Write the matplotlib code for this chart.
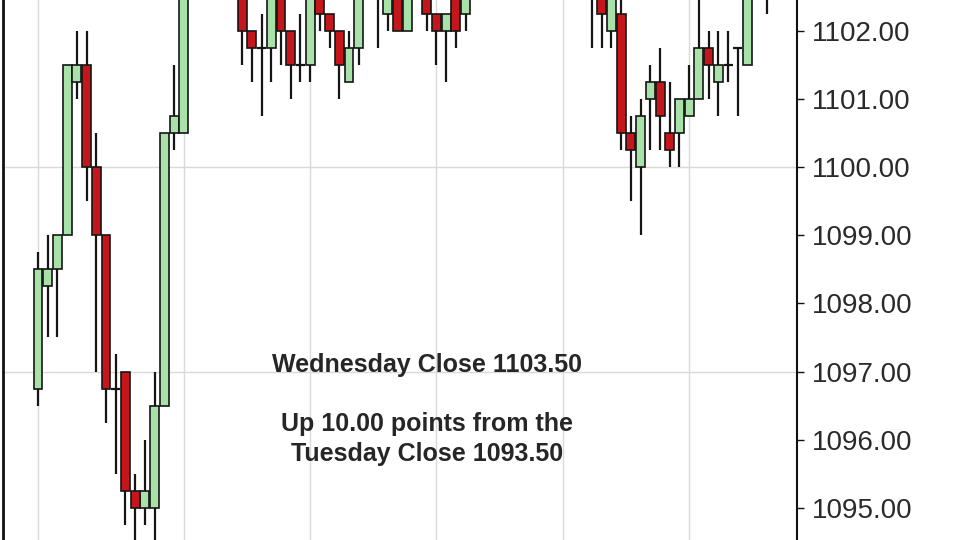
import matplotlib
matplotlib.use("Agg")
import matplotlib.pyplot as plt
import numpy as np

plt.rcParams['font.family'] = ['Liberation Sans', 'DejaVu Sans']

# OHLC per bar (bar index = position in list)
opens = [1096.75, 1098.25, 1098.5, 1099.0, 1101.25, 1101.5, 1100.0, 1099.0, 1096.75, 1097.0,
         1095.25, 1095.0, 1095.0, 1096.5, 1100.5, 1100.5, 1102.75, 1103.25, 1103.5, 1103.25,
         1103.0, 1102.75, 1102.0, 1101.75, 1101.75, 1102.75, 1102.0, 1101.5, 1101.5, 1102.5,
         1102.25, 1102.0, 1101.25, 1101.75, 1102.75, 1103.0, 1102.25, 1102.75, 1102.0, 1102.75,
         1102.75, 1102.25, 1102.0, 1102.75, 1102.25, 1102.75, 1103.0, 1103.25, 1103.5, 1103.75,
         1103.5, 1103.25, 1103.0, 1103.25, 1103.0, 1102.75, 1103.0, 1103.0, 1102.75, 1102.0,
         1102.25, 1100.5, 1100.0, 1101.0, 1101.25, 1100.5, 1100.5, 1100.75, 1101.0, 1101.75,
         1101.25, 1101.5, 1101.75, 1101.5, 1102.75, 1103.25]
highs = [1098.75, 1099.0, 1099.0, 1101.5, 1102.0, 1102.0, 1100.5, 1099.0, 1097.25, 1097.0,
         1095.5, 1096.0, 1097.0, 1100.5, 1101.5, 1103.0, 1103.5, 1103.75, 1103.75, 1103.5,
         1103.25, 1103.0, 1102.0, 1102.25, 1103.0, 1102.75, 1102.0, 1102.25, 1103.0, 1102.5,
         1102.25, 1102.0, 1102.0, 1103.0, 1103.25, 1103.25, 1103.0, 1102.75, 1102.75, 1103.25,
         1103.0, 1102.25, 1102.25, 1102.75, 1103.0, 1103.25, 1103.5, 1103.75, 1104.0, 1104.0,
         1103.75, 1103.5, 1103.5, 1103.5, 1103.25, 1103.25, 1103.25, 1103.25, 1102.75, 1102.75,
         1102.5, 1100.75, 1101.0, 1101.5, 1101.75, 1101.25, 1101.0, 1101.5, 1102.75, 1102.0,
         1102.0, 1102.0, 1101.75, 1102.75, 1103.5, 1103.75]
lows = [1096.5, 1097.5, 1097.5, 1099.0, 1101.0, 1099.5, 1097.0, 1096.25, 1095.5, 1094.75,
        1094.25, 1094.75, 1094.25, 1096.5, 1100.25, 1100.5, 1102.5, 1103.0, 1103.0, 1102.75,
        1102.5, 1101.5, 1101.25, 1100.75, 1101.25, 1101.5, 1101.0, 1101.25, 1101.25, 1102.0,
        1101.75, 1101.0, 1101.25, 1101.5, 1102.5, 1101.75, 1102.0, 1102.0, 1102.0, 1102.5,
        1102.0, 1101.5, 1101.25, 1101.75, 1102.0, 1102.5, 1102.75, 1103.0, 1103.25, 1103.25,
        1103.0, 1102.75, 1102.75, 1102.75, 1102.5, 1102.5, 1102.5, 1101.75, 1101.75, 1101.75,
        1100.25, 1099.5, 1099.0, 1100.25, 1100.25, 1100.0, 1100.0, 1100.75, 1101.0, 1101.0,
        1100.75, 1101.25, 1100.75, 1101.5, 1102.5, 1102.25]
closes = [1098.5, 1098.5, 1099.0, 1101.5, 1101.5, 1100.0, 1099.0, 1096.75, 1096.75, 1095.25,
          1095.0, 1095.25, 1096.5, 1100.5, 1100.75, 1102.75, 1103.25, 1103.5, 1103.25, 1103.0,
          1102.75, 1102.0, 1101.75, 1101.75, 1102.75, 1102.0, 1101.5, 1101.5, 1102.75, 1102.25,
          1102.0, 1101.5, 1101.75, 1102.75, 1103.0, 1102.75, 1102.75, 1102.0, 1102.75, 1103.0,
          1102.25, 1102.0, 1102.25, 1102.0, 1102.75, 1103.0, 1103.25, 1103.5, 1103.75, 1103.5,
          1103.25, 1103.0, 1103.25, 1103.0, 1102.75, 1103.0, 1102.75, 1102.75, 1102.25, 1102.75,
          1100.5, 1100.25, 1100.75, 1101.25, 1100.75, 1100.25, 1101.0, 1101.0, 1101.75, 1101.5,
          1101.5, 1101.5, 1101.75, 1102.75, 1103.25, 1103.5]

y_ticks = [1095.0, 1096.0, 1097.0, 1098.0, 1099.0, 1100.0, 1101.0, 1102.0]
h_grid = [1094.0, 1097.0, 1100.0, 1103.0]
v_grid = [0, 15, 28, 41, 54, 67]

title_line = "Wednesday Close 1103.50"
sub_lines = "Up 10.00 points from the\nTuesday Close 1093.50"

o = np.array(opens); h = np.array(highs); l = np.array(lows); c = np.array(closes)
x = np.arange(len(o))

fig = plt.figure(figsize=(9.6, 5.4), dpi=100)
ax = fig.add_axes([3/960, 0, 794/960, 1])
ax.set_xlim(-3.60, 78.09)
ax.set_ylim(1094.526, 1102.455)

for g in h_grid:
    ax.axhline(g, color='#d9d9d9', lw=1.0, zorder=0)
for g in v_grid:
    ax.axvline(g, color='#d9d9d9', lw=1.0, zorder=0)

GREEN = '#a8e2a8'
RED = '#c4161b'
EDGE = '#151515'

ax.vlines(x, l, h, color=EDGE, lw=1.6, zorder=2)
up = c > o
dn = c < o
eq = c == o
ax.bar(x[up], (c - o)[up], bottom=o[up], width=0.92, color=GREEN, edgecolor=EDGE, linewidth=1.2, zorder=3)
ax.bar(x[dn], (o - c)[dn], bottom=c[dn], width=0.92, color=RED, edgecolor=EDGE, linewidth=1.2, zorder=3)
ax.hlines(o[eq], x[eq] - 0.46, x[eq] + 0.46, color=EDGE, lw=1.6, zorder=3)

ax.yaxis.tick_right()
ax.set_yticks(y_ticks)
ax.set_yticklabels([f"{v:.2f}" for v in y_ticks])
ax.tick_params(axis='y', direction='out', length=5, width=1, colors='#111111',
               labelsize=20, labelcolor='#2a2a2a', pad=6)
ax.set_xticks([])
for s in ['top', 'bottom']:
    ax.spines[s].set_visible(False)
ax.spines['right'].set_linewidth(1.5)
ax.spines['left'].set_linewidth(2.0)
ax.spines['right'].set_color('#111111')
ax.spines['left'].set_color('#111111')

ax.text(40.0, 1097.10, title_line, ha='center', va='center', fontsize=18,
        fontweight='bold', color='#262626')
ax.text(40.0, 1096.01, sub_lines, ha='center', va='center', fontsize=18,
        fontweight='bold', color='#262626', linespacing=1.3)

fig.savefig("out.png", dpi=100)
